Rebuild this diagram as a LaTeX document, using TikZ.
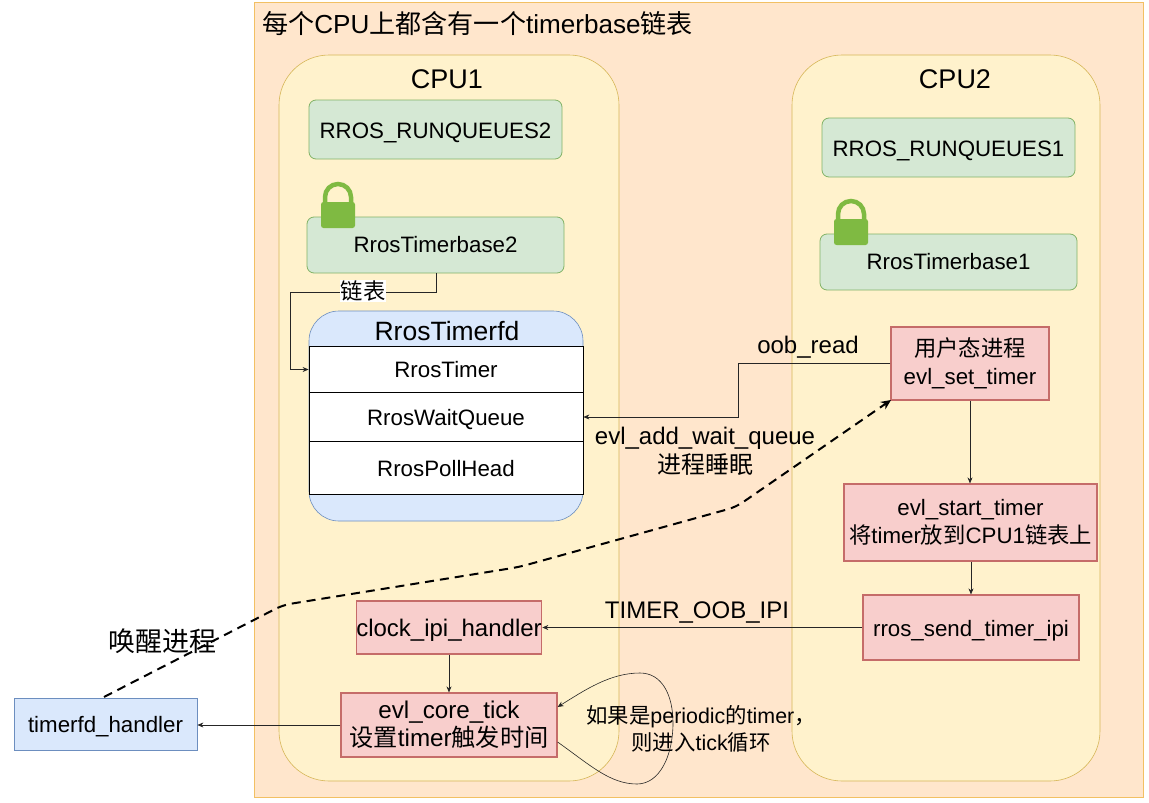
\documentclass[tikz,border=0pt]{standalone}
\usepackage{fontspec}
\setmainfont{Liberation Sans}
\newfontfamily\cjk{Noto Sans CJK SC}
\usetikzlibrary{arrows.meta}
\newcommand{\zh}[1]{{\cjk #1}}
\definecolor{outerfill}{HTML}{FFE6CC}
\definecolor{outerline}{HTML}{F2C063}
\definecolor{cpufill}{HTML}{FFF2CC}
\definecolor{cpuline}{HTML}{D6B656}
\definecolor{greenfill}{HTML}{D5E8D4}
\definecolor{greenline}{HTML}{82B366}
\definecolor{redfill}{HTML}{F8CECC}
\definecolor{redline}{HTML}{B85450}
\definecolor{bluefill}{HTML}{DAE8FC}
\definecolor{blueline}{HTML}{6C8EBF}
\definecolor{lockgreen}{HTML}{7FBA42}
\tikzset{
    box/.style={draw,minimum width=#1,inner sep=0pt,align=center,font=\fontsize{22.3}{28}\selectfont},
    oneline/.style={text height=20pt,text depth=3pt},
    rqbox/.style={box=253pt,oneline,minimum height=59pt,rounded corners=7pt,fill=greenfill,draw=greenline,line width=0.8pt},
    basebox/.style={box=257pt,minimum height=56pt,rounded corners=7pt,fill=greenfill,draw=greenline,line width=0.8pt},
    taskbox/.style={box=#1,fill=redfill,draw=redline!80!redfill,line width=1.2pt},
    rowbox/.style={box=274pt,draw=black,fill=white,line width=0.8pt},
    cpubox/.style={draw=cpuline,fill=cpufill,rounded corners=50pt,line width=0.6pt},
    txt/.style={inner sep=0pt,align=center,font=\fontsize{24}{29.5}\selectfont},
    bigtxt/.style={inner sep=0pt,align=center,font=\fontsize{27}{30}\selectfont},
    link/.style={draw=black!85,line width=0.6pt,-{Stealth[length=6pt,width=5pt]}}
}
\begin{document}
\begin{tikzpicture}[x=1pt,y=-1pt]
    \useasboundingbox (0,0) rectangle (1149,803);
    \draw[draw=outerline,fill=outerfill,line width=0.8pt] (254,2) rectangle (1143,797);
    \draw[cpubox] (279,55) rectangle (619,781);
    \draw[cpubox] (792,55) rectangle (1100,781);

    \node[bigtxt,font=\fontsize{26.1}{30}\selectfont,anchor=west] (title) at (262,24) {\zh{每个}CPU\zh{上都含有一个}timerbase\zh{链表}};
    \node[bigtxt] (cpua) at (447,79) {CPU1};
    \node[bigtxt] (cpub) at (955,79) {CPU2};

    \node[rqbox] (rqa) at (435.5,129.5) {RROS\_RUNQUEUES2};
    \node[rqbox] (rqb) at (948.5,147.5) {RROS\_RUNQUEUES1};
    \node[basebox] (basea) at (435.5,245) {RrosTimerbase2};
    \node[basebox] (baseb) at (948.5,262) {RrosTimerbase1};

    % locks
    \foreach \lx/\ly in {338/228, 851/245} {
        \draw[lockgreen,line width=4.5pt] (\lx-13,\ly-24) -- (\lx-13,\ly-31) arc (180:360:13) -- (\lx+13,\ly-24);
        \fill[lockgreen,rounded corners=2.5pt] (\lx-17,\ly-26) rectangle (\lx+17,\ly);
    }

    % timerfd
    \draw[draw=blueline,fill=bluefill,rounded corners=30pt,line width=0.6pt] (309,311) rectangle (583,521);
    \node[bigtxt,font=\fontsize{26.5}{30}\selectfont] (fdtitle) at (447,331) {RrosTimerfd};
    \node[rowbox,minimum height=46pt] (rowa) at (446,369.5) {RrosTimer};
    \node[rowbox,oneline,minimum height=49pt] (rowb) at (446,417) {RrosWaitQueue};
    \node[rowbox,oneline,minimum height=53pt] (rowc) at (446,467.5) {RrosPollHead};

    \node[taskbox=158pt,minimum height=73pt] (user) at (970,363.5) {\zh{用户态进程}\\evl\_set\_timer};
    \node[taskbox=253pt,minimum height=77pt] (start) at (970.5,522.5) {evl\_start\_timer\\\zh{将}timer\zh{放到}CPU1\zh{链表上}};
    \node[taskbox=216pt,oneline,minimum height=65pt] (send) at (971,627.5) {rros\_send\_timer\_ipi};
    \node[taskbox=184pt,oneline,minimum height=53pt,font=\fontsize{24}{28}\selectfont] (clock) at (449,627.5) {clock\_ipi\_handler};
    \node[taskbox=216pt,minimum height=64pt,font=\fontsize{24.2}{28}\selectfont] (tick) at (449,725) {evl\_core\_tick\\\zh{设置}timer\zh{触发时间}};
    \node[box=183pt,oneline,minimum height=52pt,fill=bluefill,draw=blueline,line width=0.8pt] (handler) at (105.5,724) {timerfd\_handler};

    % connectors
    \draw[link] (436,273) -- (436,292) -- (290,292) -- (290,369.5) -- (rowa.west);
    \draw[link] (user.west) -- (738,363.5) -- (738,417) -- (rowb.east);
    \draw[link] (user.south) -- (start.north -| user.south);
    \draw[link] (start.south -| send.north) -- (send.north);
    \draw[link] (send.west) -- (clock.east);
    \draw[link] (clock.south) -- (tick.north);
    \draw[link] (tick.west) -- (handler.east |- tick.west);
    \draw[link] (tick.east |- 0,742) .. controls (590,765) and (610,784) .. (637,784)
        .. controls (660,784) and (673,755) .. (673,723)
        .. controls (673,695) and (662,673) .. (640,673)
        .. controls (610,673) and (585,690) .. (tick.east |- 0,707);
    \coordinate (wakestart) at (104,697);
    \coordinate (wakeend) at (891,400);
    \draw[line width=2pt,dash pattern=on 9pt off 6pt,rounded corners=8pt,-{Stealth[length=10pt,width=9pt]}] (wakestart) -- (283,605) -- (519,567) -- (736,507) -- (wakeend);

    % labels
    \node[txt,fill=white,inner sep=1pt,font=\fontsize{22.3}{28}\selectfont] (linklabel) at (363,291) {\zh{链表}};
    \node[txt] (readlabel) at (808,347) {oob\_read};
    \node[txt] (waitlabel) at (705,451.5) {evl\_add\_wait\_queue\\\zh{进程睡眠}};
    \node[txt] (ipilabel) at (697,612) {TIMER\_OOB\_IPI};
    \node[bigtxt] (wakelabel) at (162,641) {\zh{唤醒进程}};
    \node[inner sep=0pt,align=center,font=\fontsize{21.4}{27}\selectfont] (looplabel) at (701,729) {\zh{如果是}periodic\zh{的}timer\zh{，}\\\zh{则进入}tick\zh{循环}};
\end{tikzpicture}
\end{document}
